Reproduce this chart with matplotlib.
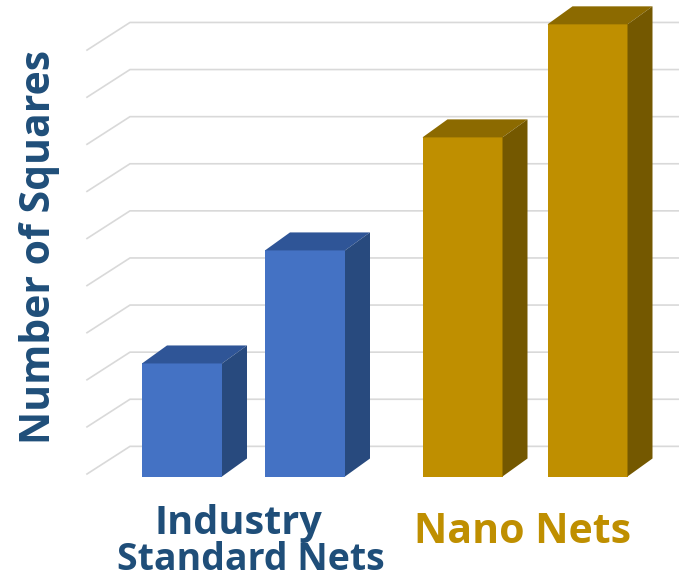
import matplotlib.pyplot as plt
from matplotlib.patches import Polygon

# data (heights in grid units)
groups = ['Industry\nStandard Nets', 'Nano Nets']
values = [2.4, 4.8, 7.2, 9.6]
bar_group = [0, 0, 1, 1]
grid_levels = list(range(10))

front_colors = ['#4472C4', '#BF8F00']
top_colors = ['#2F5597', '#8C6A00']
side_colors = ['#284A7E', '#745800']
label_colors = ['#1F4E79', '#BF8F00']

W, H = 679, 584
fig = plt.figure(figsize=(W / 100, H / 100), dpi=100)
ax = fig.add_axes([0, 0, 1, 1])
unit = 47.1
floor_px = 476.5
ax.set_xlim(0, W)
ax.set_ylim(-(H - floor_px) / unit, floor_px / unit)
ax.axis('off')

# perspective grid: back wall lines with a short diagonal on the left
for v in grid_levels:
    ax.plot([87, 130, W], [v + 0.053, v + 0.64, v + 0.64], color='#D9D9D9', lw=1.2,
            solid_joinstyle='miter', zorder=1)

# 3d-looking bars
xs = [182, 305, 462.5, 587.5]
width = 80
dx, dy = 25, 18 / unit
ax.bar(xs, values, width=width, color=[front_colors[g] for g in bar_group],
       edgecolor='none', zorder=3)
for x, h, g in zip(xs, values, bar_group):
    x0, x1 = x - width / 2, x + width / 2
    ax.add_patch(Polygon([(x0, h), (x1, h), (x1 + dx, h + dy), (x0 + dx, h + dy)],
                         closed=True, facecolor=top_colors[g], edgecolor='none', zorder=3))
    ax.add_patch(Polygon([(x1, 0), (x1 + dx, dy), (x1 + dx, h + dy), (x1, h)],
                         closed=True, facecolor=side_colors[g], edgecolor='none', zorder=3))

font = 'Open Sans'
fig.text(40 / W, 1 - 247 / H, 'Number of Squares', rotation=90, ha='center', va='center',
         fontsize=29.4, fontweight='bold', family=font, color=label_colors[0])

line1, line2 = groups[0].split('\n')
fig.text(238.5 / W, 1 - 534 / H, line1, ha='center', va='baseline',
         fontsize=28.5, fontweight='bold', family=font, color=label_colors[0])
fig.text(251 / W, 1 - 570 / H, line2, ha='center', va='baseline',
         fontsize=27, fontweight='bold', family=font, color=label_colors[0])
fig.text(522.5 / W, 1 - 543 / H, groups[1], ha='center', va='baseline',
         fontsize=29.5, fontweight='bold', family=font, color=label_colors[1])

fig.savefig('out.png', dpi=100)
